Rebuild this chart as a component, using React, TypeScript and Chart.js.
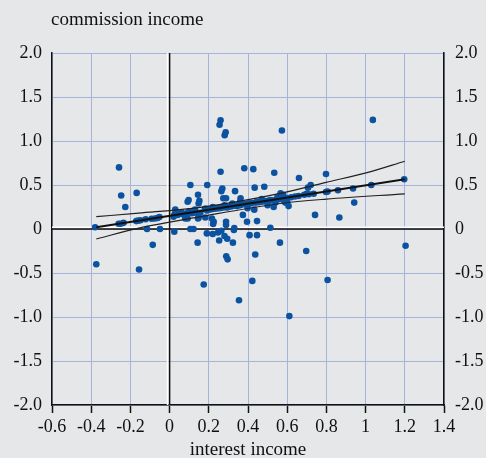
import React, { useEffect, useRef } from "react";
import { Chart, registerables } from "chart.js";

Chart.register(...registerables);

const interestIncome = [
  -0.374, -0.38, -0.258, -0.247, -0.168, -0.226, -0.26, -0.25, -0.235, -0.17,
  -0.16, -0.148, -0.122, -0.092, -0.075, -0.062, -0.052, -0.115, -0.049, -0.086,
  -0.156, 0.024, 0.029, 0.024, 0.02, 0.106, 0.097, 0.092, 0.145, 0.148,
  0.152, 0.089, 0.114, 0.131, 0.092, 0.08, 0.106, 0.122, 0.143, 0.148,
  0.182, 0.157, 0.191, 0.192, 0.186, 0.19, 0.174, 0.145, 0.05, 0.06,
  0.07, 0.216, 0.225, 0.222, 0.22, 0.247, 0.264, 0.28, 0.294, 0.253,
  0.323, 0.328, 0.288, 0.288, 0.26, 0.255, 0.286, 0.281, 0.26, 0.381,
  0.269, 0.264, 0.334, 0.274, 0.288, 0.362, 0.289, 0.296, 0.354, 0.242,
  0.293, 0.344, 0.374, 0.395, 0.398, 0.33, 0.427, 0.534, 0.434, 0.483,
  0.566, 0.573, 0.408, 0.446, 0.446, 0.514, 0.563, 0.437, 0.422, 0.611,
  0.432, 0.446, 0.48, 0.514, 0.531, 0.582, 0.607, 0.395, 0.66, 0.706,
  0.72, 0.658, 0.687, 0.7, 0.71, 0.735, 0.798, 0.798, 0.806, 0.859,
  0.936, 1.029, 1.197, 0.742, 0.866, 0.942, 0.697, 1.204, 1.037, 0.806,
  0.2, 0.215, 0.23, 0.25, 0.26, 0.275, 0.3, 0.31, 0.32, 0.335,
  0.35, 0.36, 0.37, 0.385, 0.4, 0.41, 0.42, 0.44, 0.455, 0.47,
  0.49, 0.5, 0.52, 0.54, 0.55, 0.56, 0.57, 0.58, 0.59, 0.6,
  0.62, 0.64, 0.55, 0.57, 0.59, 0.6, 0.54, 0.5, 0.47, 0.58,
  0.36, 0.32, 0.28, 0.22, 0.18, 0.13, 0.1, 0.06, 0.03, 0.04,
];

const commissionIncome = [
  -0.4, 0.02, 0.7, 0.38, 0.41, 0.25, 0.06, 0.06, 0.07, 0.09,
  0.095, 0.1, 0.11, 0.117, 0.12, 0.125, 0.135, 0.0, 0.0, -0.18,
  -0.46, -0.03, 0.22, 0.16, 0.14, 0.5, 0.33, 0.31, 0.39, 0.29,
  0.32, 0.18, 0.18, 0.185, 0.12, 0.12, 0.0, 0.0, -0.155, 0.13,
  0.13, 0.185, 0.21, 0.5, 0.23, -0.05, -0.63, 0.12, 0.17, 0.18,
  0.165, 0.12, 0.083, 0.057, -0.057, -0.04, -0.02, -0.08, -0.11, -0.13,
  -0.155, -0.01, 0.083, 0.045, 1.235, 1.185, 1.1, 1.065, 0.65, 0.69,
  0.46, 0.43, 0.43, 0.35, 0.35, 0.35, -0.31, -0.345, -0.81, 0.235,
  0.245, 0.26, 0.16, 0.083, 0.235, 0.01, 0.68, 0.64, 0.47, 0.48,
  0.405, 1.12, -0.07, -0.07, 0.09, 0.015, -0.155, -0.29, -0.59, -0.99,
  0.22, 0.31, 0.32, 0.33, 0.25, 0.35, 0.26, 0.284, 0.58, 0.47,
  0.5, 0.375, 0.39, 0.4, 0.395, 0.4, 0.625, 0.42, 0.425, 0.44,
  0.46, 0.5, 0.565, 0.16, 0.13, 0.3, -0.25, -0.19, 1.24, -0.58,
  0.22, 0.225, 0.23, 0.235, 0.24, 0.245, 0.25, 0.255, 0.26, 0.265,
  0.27, 0.27, 0.28, 0.28, 0.29, 0.29, 0.295, 0.3, 0.305, 0.31,
  0.315, 0.32, 0.325, 0.33, 0.34, 0.34, 0.345, 0.33, 0.34, 0.35,
  0.36, 0.37, 0.36, 0.37, 0.3, 0.31, 0.3, 0.27, 0.34, 0.39,
  0.31, 0.29, 0.27, 0.25, 0.23, 0.22, 0.2, 0.19, 0.17, 0.16,
];

const fitX = [-0.374, 1.2];
const fitY = [0.02, 0.565];
const upperX = [-0.374, -0.158, 0.157, 0.565, 0.798, 1.007, 1.2];
const upperY = [0.14, 0.18, 0.246, 0.405, 0.53, 0.64, 0.77];
const lowerX = [-0.374, -0.158, 0.157, 0.565, 0.8, 1.2];
const lowerY = [-0.114, 0.01, 0.14, 0.29, 0.34, 0.4];

const xTicksMin = -0.6;
const xTicksMax = 1.4;
const xStep = 0.2;
const yTicksMin = -2;
const yTicksMax = 2;
const yStep = 0.5;

const xTitle = "interest income";
const yTitle = "commission income";

const BG = "#e6e7e9";
const GRID = "#a6b3dc";
const DOT = "#0b53a1";
const FONT = "'Liberation Serif', 'Times New Roman', serif";

const zip = (xs: number[], ys: number[]) => xs.map((x, i) => ({ x, y: ys[i] }));

const decorPlugin = {
  id: "decor",
  beforeDatasetsDraw(chart: any) {
    const { ctx, chartArea, scales } = chart;
    const x0 = scales.x.getPixelForValue(0);
    const y0 = scales.y.getPixelForValue(0);
    ctx.save();
    ctx.strokeStyle = "#ffffff";
    ctx.lineWidth = 1.6;
    ctx.beginPath();
    ctx.moveTo(x0 - 2, chartArea.top);
    ctx.lineTo(x0 - 2, chartArea.bottom);
    ctx.moveTo(chartArea.left, y0 - 1.8);
    ctx.lineTo(chartArea.right, y0 - 1.8);
    ctx.stroke();
    ctx.strokeStyle = "#111111";
    ctx.lineWidth = 1.5;
    ctx.beginPath();
    ctx.moveTo(x0, chartArea.top);
    ctx.lineTo(x0, chartArea.bottom);
    ctx.moveTo(chartArea.left, y0);
    ctx.lineTo(chartArea.right, y0);
    ctx.stroke();
    ctx.restore();
  },
  afterDraw(chart: any) {
    const { ctx, chartArea } = chart;
    ctx.save();
    ctx.fillStyle = "#111111";
    ctx.font = `19px ${FONT}`;
    ctx.textBaseline = "alphabetic";
    ctx.textAlign = "left";
    ctx.fillText(yTitle, chartArea.left - 1, chartArea.top - 28);
    ctx.restore();
  },
};

export default function App() {
  const ref = useRef<HTMLCanvasElement | null>(null);

  useEffect(() => {
    document.body.style.margin = "0";
    document.body.style.background = BG;
    const canvas = ref.current;
    if (!canvas) return;
    const tickFont = { family: FONT, size: 18 };
    const chart = new Chart(canvas, {
      type: "scatter",
      data: {
        datasets: [
          {
            data: zip(fitX, fitY),
            showLine: true,
            borderColor: "#111111",
            borderWidth: 2,
            pointRadius: 0,
          },
          {
            data: zip(upperX, upperY),
            showLine: true,
            borderColor: "#222222",
            borderWidth: 1.2,
            pointRadius: 0,
            cubicInterpolationMode: "monotone",
          },
          {
            data: zip(lowerX, lowerY),
            showLine: true,
            borderColor: "#222222",
            borderWidth: 1.2,
            pointRadius: 0,
            cubicInterpolationMode: "monotone",
          },
          {
            data: zip(interestIncome, commissionIncome),
            backgroundColor: DOT,
            borderWidth: 0,
            pointRadius: 3.3,
          },
        ],
      } as any,
      options: {
        responsive: false,
        animation: false,
        events: [],
        layout: { padding: { top: 53, left: 0, right: 0, bottom: 0 } },
        plugins: { legend: { display: false }, tooltip: { enabled: false } },
        scales: {
          x: {
            type: "linear",
            min: xTicksMin,
            max: xTicksMax,
            afterFit: (s: any) => {
              s.height = 53;
            },
            ticks: {
              stepSize: xStep,
              color: "#111111",
              font: tickFont,
              padding: 3,
              maxRotation: 0,
              callback: (v: any) => String(Math.round(Number(v) * 10) / 10),
            },
            grid: {
              color: GRID,
              lineWidth: 1,
              tickColor: "#111111",
              tickLength: 8,
              tickWidth: 1.5,
            },
            border: { display: true, color: "#111111", width: 1.5 },
            title: {
              display: true,
              text: xTitle,
              color: "#111111",
              font: { family: FONT, size: 19, lineHeight: 1 },
              padding: { top: 0, bottom: -2 },
            },
          },
          y: {
            type: "linear",
            position: "left",
            min: yTicksMin,
            max: yTicksMax,
            afterFit: (s: any) => {
              s.width = 52;
            },
            ticks: {
              stepSize: yStep,
              color: "#111111",
              font: tickFont,
              padding: 10,
              callback: (v: any) => {
                const n = Math.round(Number(v) * 10) / 10;
                return n === 0 ? "0" : n.toFixed(1);
              },
            },
            grid: { color: GRID, lineWidth: 1, drawTicks: false },
            border: { display: true, color: "#111111", width: 1.5 },
          },
          y2: {
            type: "linear",
            position: "right",
            min: yTicksMin,
            max: yTicksMax,
            afterFit: (s: any) => {
              s.width = 42;
            },
            ticks: {
              stepSize: yStep,
              color: "#111111",
              font: tickFont,
              padding: 11,
              callback: (v: any) => {
                const n = Math.round(Number(v) * 10) / 10;
                return n === 0 ? "0" : n.toFixed(1);
              },
            },
            grid: { display: false, drawTicks: false },
            border: { display: true, color: "#111111", width: 1.5 },
          },
        },
      } as any,
      plugins: [decorPlugin],
    });
    return () => chart.destroy();
  }, []);

  return (
    <div style={{ position: "absolute", left: 0, top: 0, width: 486, height: 458, background: BG }}>
      <canvas ref={ref} width={486} height={458} style={{ display: "block", width: 486, height: 458 }} />
    </div>
  );
}
